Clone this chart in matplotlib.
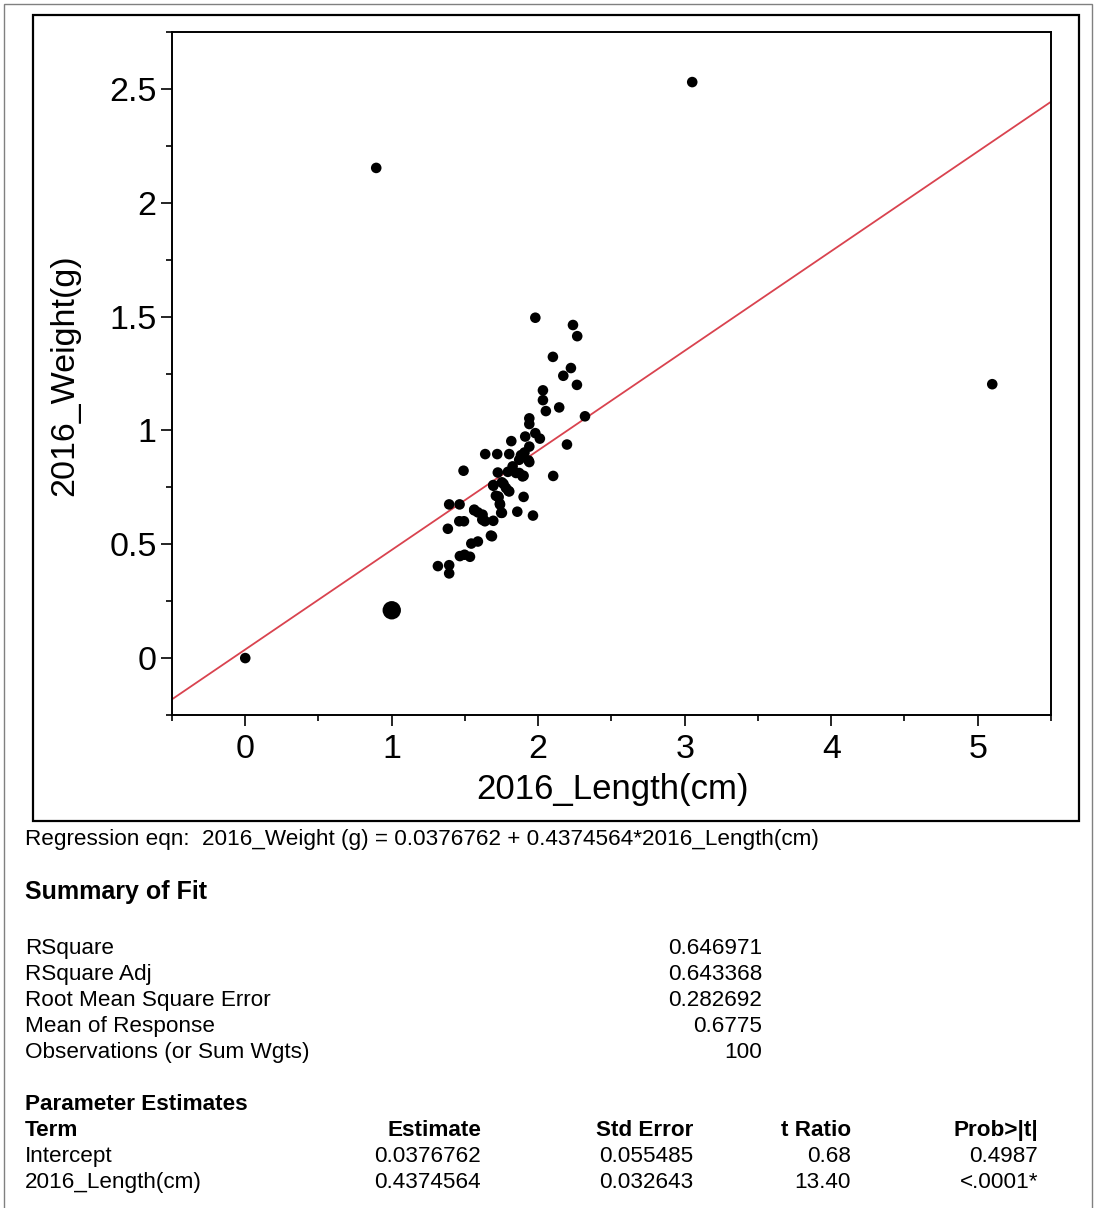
import matplotlib
matplotlib.use("Agg")
import matplotlib.pyplot as plt
from matplotlib.patches import Rectangle
from matplotlib.ticker import MultipleLocator
import numpy as np

plt.rcParams['font.family'] = ['Liberation Sans', 'DejaVu Sans']

# ---------------- data ----------------
length_cm = [0.0, 0.894, 3.051, 5.099,
             1.980, 2.237, 2.266, 2.100, 2.223, 2.171, 2.264, 2.032, 2.032, 2.052,
             2.143, 2.319, 1.939, 1.939, 1.980, 2.011, 1.911, 1.816, 1.939, 2.196,
             1.638, 1.720, 1.802, 1.906, 1.882, 1.870, 1.939, 1.490, 1.724, 1.793,
             1.848, 1.900, 2.102, 1.693, 1.763, 1.797, 1.729, 1.900, 1.738, 1.392,
             1.463, 1.563, 1.588, 1.747, 1.857, 1.964, 1.618, 1.693, 1.461, 1.493,
             1.636, 1.383, 1.684, 1.543, 1.588, 1.465, 1.534, 1.497, 1.315, 1.392,
             1.392,
             1.825, 1.870, 1.893, 1.752, 1.780, 1.693, 1.711, 1.889, 1.934, 1.727,
             1.739, 1.752, 1.802, 1.563, 1.620, 1.631, 1.677]
weight_g = [0.0, 2.153, 2.530, 1.203,
            1.495, 1.463, 1.414, 1.323, 1.274, 1.240, 1.200, 1.176, 1.133, 1.085,
            1.101, 1.062, 1.053, 1.028, 0.988, 0.964, 0.973, 0.953, 0.929, 0.938,
            0.896, 0.896, 0.896, 0.903, 0.891, 0.871, 0.861, 0.823, 0.815, 0.818,
            0.813, 0.801, 0.800, 0.757, 0.765, 0.734, 0.706, 0.708, 0.678, 0.675,
            0.675, 0.649, 0.640, 0.638, 0.643, 0.626, 0.608, 0.603, 0.601, 0.601,
            0.601, 0.568, 0.535, 0.503, 0.512, 0.448, 0.445, 0.454, 0.404, 0.408,
            0.372,
            0.842, 0.813, 0.798, 0.772, 0.747, 0.760, 0.713, 0.883, 0.868, 0.710,
            0.674, 0.638, 0.732, 0.652, 0.630, 0.605, 0.538]
# heavily overlapped point (drawn larger)
big_length = [1.0]
big_weight = [0.21]

intercept = 0.0376762
slope = 0.4374564

x_ticks = [0, 1, 2, 3, 4, 5]
y_ticks = [0, 0.5, 1, 1.5, 2, 2.5]
y_tick_labels = ["0", "0.5", "1", "1.5", "2", "2.5"]

eqn_text = "Regression eqn:  2016_Weight (g) = 0.0376762 + 0.4374564*2016_Length(cm)"
fit_labels = ["RSquare", "RSquare Adj", "Root Mean Square Error",
              "Mean of Response", "Observations (or Sum Wgts)"]
fit_values = ["0.646971", "0.643368", "0.282692", "0.6775", "100"]
param_headers = ["Term", "Estimate", "Std Error", "t Ratio", "Prob>|t|"]
param_rows = [["Intercept", "0.0376762", "0.055485", "0.68", "0.4987"],
              ["2016_Length(cm)", "0.4374564", "0.032643", "13.40", "<.0001*"]]

# ---------------- figure ----------------
W, H = 1095, 1208
fig = plt.figure(figsize=(W / 100, H / 100), dpi=100)


def fx(px):
    return px / W


def fy(py):
    return 1 - py / H


# outer gray border
fig.add_artist(Rectangle((fx(4), fy(1215)), fx(1092) - fx(4), fy(4) - fy(1215),
                         transform=fig.transFigure, fill=False,
                         edgecolor='#808080', linewidth=1.0))
# inner black frame around plot
fig.add_artist(Rectangle((fx(33), fy(821)), fx(1079) - fx(33), fy(15) - fy(821),
                         transform=fig.transFigure, fill=False,
                         edgecolor='black', linewidth=1.6))

ax = fig.add_axes([fx(172), fy(715), fx(1051) - fx(172), fy(32) - fy(715)])
ax.set_xlim(-0.5, 5.5)
ax.set_ylim(-0.25, 2.75)

xs = np.array([-0.5, 5.5])
ax.plot(xs, intercept + slope * xs, color='#d9434f', linewidth=1.3, zorder=2)
ax.scatter(length_cm, weight_g, s=58, color='black', edgecolors='none', zorder=3)
ax.scatter(big_length, big_weight, s=175, color='black', edgecolors='none', zorder=3)

ax.set_xticks(x_ticks)
ax.set_xticklabels([str(v) for v in x_ticks])
ax.set_yticks(y_ticks)
ax.set_yticklabels(y_tick_labels)
ax.xaxis.set_minor_locator(MultipleLocator(0.5))
ax.yaxis.set_minor_locator(MultipleLocator(0.25))
ax.tick_params(axis='both', which='major', direction='out', length=8, width=1.2,
               labelsize=24.5, color='black')
ax.tick_params(axis='both', which='minor', direction='out', length=4.5, width=1.2,
               color='black')
ax.tick_params(axis='x', which='major', pad=6)
ax.tick_params(axis='y', which='major', pad=3)
for sp in ax.spines.values():
    sp.set_linewidth(1.4)
    sp.set_color('black')

fig.text(fx(612), fy(790), "2016_Length(cm)", fontsize=25, ha='center', va='center')
fig.text(fx(65), fy(375), "2016_Weight(g)", fontsize=24.5, ha='center', va='center',
         rotation=90)

# ---------------- report text ----------------
fs = 16.2
dy = 1.5
fig.text(fx(25), fy(838 + dy), eqn_text, fontsize=fs, ha='left', va='center')
fig.text(fx(25), fy(891 + dy), "Summary of Fit", fontsize=18, fontweight='bold',
         ha='left', va='center')
row_y = [947, 973, 999, 1025, 1051]
for lab, val, yy in zip(fit_labels, fit_values, row_y):
    fig.text(fx(25), fy(yy + dy), lab, fontsize=fs, ha='left', va='center')
    fig.text(fx(762), fy(yy + dy), val, fontsize=fs, ha='right', va='center')

fig.text(fx(25), fy(1103 + dy), "Parameter Estimates", fontsize=fs, fontweight='bold',
         ha='left', va='center')
col_x = [25, 481, 693, 851, 1038]
col_ha = ['left', 'right', 'right', 'right', 'right']
for h, cx, ha in zip(param_headers, col_x, col_ha):
    fig.text(fx(cx), fy(1129 + dy), h, fontsize=fs, fontweight='bold', ha=ha, va='center')
for row, yy in zip(param_rows, [1155, 1181]):
    for v, cx, ha in zip(row, col_x, col_ha):
        fig.text(fx(cx), fy(yy + dy), v, fontsize=fs, ha=ha, va='center')

fig.savefig("out.png", dpi=100)
